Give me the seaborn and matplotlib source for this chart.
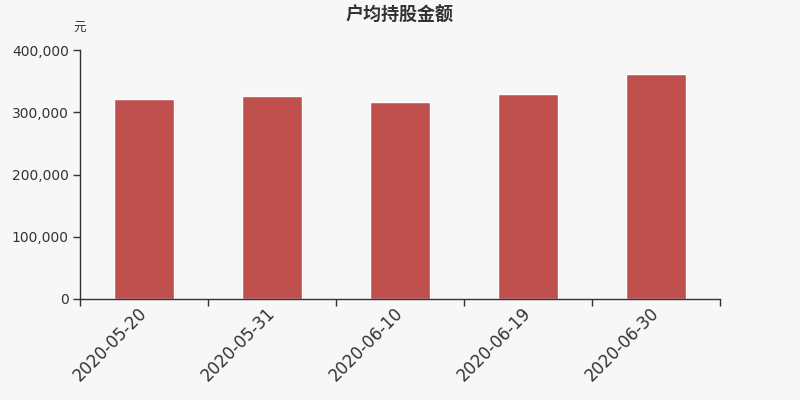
import seaborn as sns
import pandas as pd
import numpy as np
import matplotlib.pyplot as plt
from matplotlib.ticker import FuncFormatter, FixedLocator

dates = ['2020-05-20', '2020-05-31', '2020-06-10', '2020-06-19', '2020-06-30']
amounts = [321300, 326100, 317000, 329300, 361600]

bg = '#f7f7f7'
bar_color = '#c0504d'
axis_color = '#333333'

sns.set_theme(style='white')
plt.rcParams['font.family'] = ['DejaVu Sans', 'Noto Sans CJK SC']

df = pd.DataFrame({'date': dates, 'amount': amounts})

fig = plt.figure(figsize=(8, 4), dpi=100, facecolor=bg)
ax = fig.add_axes([0.1, 0.2525, 0.8, 0.6225])
ax.set_facecolor(bg)

sns.barplot(data=df, x='date', y='amount', color=bar_color, width=0.47,
            saturation=1, ax=ax)

ax.set_xlim(-0.5, len(dates) - 0.5)
ax.set_ylim(0, 400000)
ax.set_yticks([0, 100000, 200000, 300000, 400000])
ax.yaxis.set_major_formatter(FuncFormatter(lambda v, p: f'{int(v):,}'))

for s in ['top', 'right']:
    ax.spines[s].set_visible(False)
for s in ['left', 'bottom']:
    ax.spines[s].set_color(axis_color)
    ax.spines[s].set_linewidth(1)

# tick marks sit on category boundaries, labels at centres
ax.xaxis.set_minor_locator(FixedLocator(np.arange(-0.5, len(dates), 1.0)))
ax.tick_params(axis='x', which='major', length=0, pad=8, labelsize=12,
               labelcolor=axis_color)
ax.tick_params(axis='x', which='minor', length=5, width=1, color=axis_color,
               bottom=True)
ax.tick_params(axis='y', length=5, width=1, color=axis_color, left=True,
               labelsize=10, labelcolor=axis_color, pad=3)
plt.setp(ax.get_xticklabels(), rotation=45, ha='right', va='center',
         rotation_mode='anchor')

ax.set_xlabel('')
ax.set_ylabel('')
ax.grid(False)

fig.text(0.5, 0.963, '户均持股金额', ha='center', va='center', fontsize=13,
         fontweight='bold', color=axis_color,
         family=['Noto Sans CJK SC', 'DejaVu Sans'])
fig.text(0.1, 0.93, '元', ha='center', va='center', fontsize=9,
         color=axis_color, family=['Noto Sans CJK SC', 'DejaVu Sans'])

fig.savefig('out.png', dpi=100, facecolor=bg)
